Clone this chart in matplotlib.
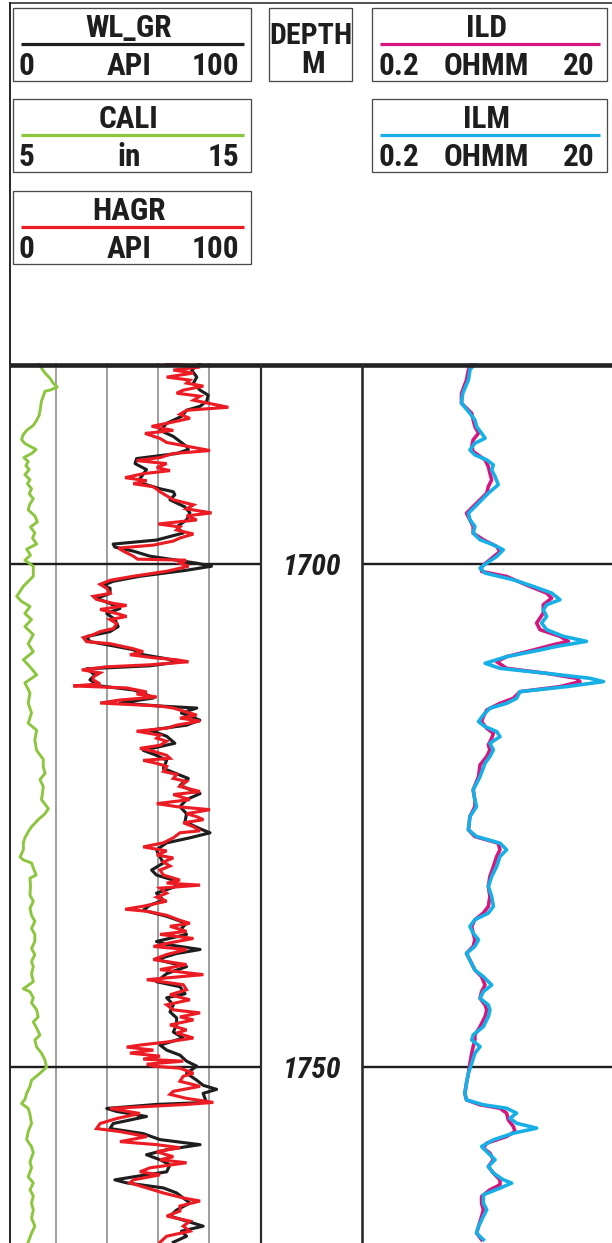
import matplotlib
matplotlib.use('Agg')
import matplotlib.pyplot as plt
from matplotlib.patches import Rectangle

plt.rcParams['font.family'] = ['Roboto Condensed', 'DejaVu Sans']

# ---------------- data ----------------
GR_DEPTH = [1680.0,1680.7,1681.4,1682.0,1682.7,1683.2,1683.8,1684.3,1684.7,1685.3,1686.0,1686.7,1687.3,1688.3,1688.6,1689.0,1689.5,1690.0,1690.6,1691.5,1692.0,1692.5,1692.8,1693.1,1693.6,1694.3,1694.9,1695.6,1696.3,1696.9,1697.6,1698.0,1698.3,1698.7,1699.2,1699.9,1700.2,
            1700.6,1701.2,1701.7,1702.1,1702.4,1702.9,1703.4,1703.9,1704.4,1704.9,1705.5,1706.2,1706.7,1707.2,1707.7,1708.0,1708.5,1709.0,1709.4,1709.7,1710.1,1710.4,1711.0,1711.5,1712.1,1712.5,1712.8,1713.3,1713.8,1714.1,1714.3,1714.8,1715.5,1716.0,1716.5,1717.1,1717.8,1718.5,1719.0,
            1719.5,1720.3,1721.3,1722.0,1722.8,1723.4,1724.1,1724.8,1725.6,1726.3,1726.7,1727.2,1727.7,1728.4,1729.1,1729.7,1730.4,1730.9,1731.4,1732.0,1732.7,1733.4,1733.9,1734.4,1735.0,1735.7,1736.2,1736.8,1737.5,1737.8,1738.3,1738.7,1739.3,
            1740.0,1740.7,1741.5,1742.0,1742.7,1743.1,1743.8,1744.5,1745.1,1745.8,1746.5,1747.1,1747.8,1748.3,1748.8,1749.4,1749.9,1750.6,1751.3,1751.8,1752.2,1752.6,1753.1,1753.5,1753.7,1754.1,1754.4,1754.9,1755.6,1756.1,1756.6,1757.2,1757.7,1758.2,1758.7,1759.2,1759.7,1760.4,1760.9,1761.2,1761.5,1762.0,1762.5,1763.0,1763.5,1764.2,1764.8,1765.3,1765.8,1766.3,1766.8,1767.4]
WL_GR = [76.4,73.2,75.2,73.9,76.5,79.7,79.1,76.5,71.2,69.3,63.4,60.8,66.0,71.2,71.9,67.3,51.6,51.0,55.5,52.9,54.2,60.8,66.0,66.6,64.7,70.5,72.5,71.2,67.3,69.9,59.4,42.4,43.1,50.3,56.8,75.2,81.0,
         71.2,52.9,42.4,38.5,41.2,41.2,35.9,41.2,45.1,39.9,43.1,44.4,41.2,32.0,33.3,39.9,50.3,54.2,63.4,68.6,56.8,32.0,35.3,33.3,37.2,50.3,54.2,58.2,45.1,60.8,75.2,69.2,76.4,71.2,56.8,63.4,66.6,54.2,59.4,
         63.4,62.1,71.9,68.6,76.5,71.2,68.6,71.2,70.6,76.5,80.4,72.5,63.4,59.4,60.8,62.1,57.5,59.4,66.0,67.3,59.4,62.1,56.8,54.2,63.4,71.2,69.2,71.2,59.4,63.4,76.5,67.3,59.4,
         71.2,63.4,59.4,68.6,70.6,63.4,66.0,64.7,67.3,67.3,66.0,69.9,60.8,63.4,68.6,71.2,75.2,71.2,75.2,77.7,83.0,77.7,78.4,79.1,59.4,39.9,43.8,55.5,42.4,41.2,54.2,60.8,76.5,63.4,55.5,60.8,64.7,63.4,50.3,43.1,47.7,62.1,67.3,69.9,72.5,67.3,64.7,71.2,77.7,69.2,71.2,66.0]

HAGR_DEPTH = [1680.0,1680.4,1680.7,1681.0,1681.4,1681.7,1682.0,1682.3,1682.7,1683.0,1683.3,1683.7,1684.1,1684.4,1684.7,1685.1,1685.5,1686.0,1686.3,1686.7,1687.0,1687.5,1687.9,1688.4,1688.7,1689.0,1689.4,1689.7,1690.0,1690.4,1690.7,1691.0,1691.4,1691.7,1692.0,1692.3,1692.8,1693.2,1693.6,1694.1,1694.5,1694.9,1695.2,1695.6,1696.0,1696.3,1696.6,1697.0,1697.4,1697.7,1698.1,1698.4,1698.7,1699.2,1699.5,1699.6,1699.9,1700.2,1700.7,1701.2,1701.6,
              1702.0,1702.4,1702.9,1703.2,1703.5,1703.9,1704.1,1704.5,1704.9,1705.2,1705.5,1705.9,1706.4,1706.7,1707.0,1707.3,1707.7,1707.9,1708.4,1708.7,1709.0,1709.3,1709.5,1709.7,1710.0,1710.2,1710.5,1710.8,1711.2,1711.5,1711.9,1712.1,1712.3,1712.7,1712.9,1713.2,1713.5,1713.8,1714.1,1714.3,1714.6,1715.0,1715.3,1715.6,1716.0,1716.3,1716.6,1717.0,1717.3,1717.6,1718.0,1718.3,1718.6,1719.0,1719.3,
              1719.5,1719.8,1720.1,1720.6,1720.9,1721.3,1721.6,1722.1,1722.6,1722.9,1723.4,1723.8,1724.1,1724.4,1724.8,1725.1,1725.4,1725.7,1726.1,1726.5,1726.7,1727.2,1727.7,1728.1,1728.5,1728.9,1729.2,1729.6,1730.0,1730.4,1730.9,1731.4,1731.7,1731.9,1732.2,1732.7,1733.1,1733.5,1734.0,1734.3,1734.5,1734.9,1735.4,1735.7,1736.0,1736.5,1736.8,1737.2,1737.7,1738.0,1738.3,1738.8,1739.3,
              1739.8,1740.3,1740.8,1741.3,1741.8,1742.3,1742.8,1743.3,1743.8,1744.3,1744.6,1745.0,1745.3,1745.8,1746.3,1746.6,1747.1,1747.5,1747.8,1748.0,1748.3,1748.6,1748.9,1749.2,1749.4,1749.7,1749.9,1750.1,1750.6,1750.9,1751.4,1751.9,1752.4,1752.7,1753.1,1753.5,1753.7,1754.1,1754.6,1755.1,1755.6,1756.1,1756.4,1756.9,1757.4,1757.7,1758.0,1758.4,1758.9,1759.2,1759.5,1760.0,1760.4,1760.7,1761.2,1761.5,1762.0,1762.5,1763.0,1763.3,1763.8,1764.3,1764.8,1765.3,1765.8,1766.3,1766.8,1767.4]
HAGR = [63.4,76.5,66.0,73.9,63.4,72.5,71.2,77.8,69.9,67.3,76.5,73.9,81.7,87.6,71.2,68.6,72.5,63.4,57.5,66.0,54.9,60.8,63.4,73.9,80.4,66.0,60.8,51.6,63.4,59.5,64.7,54.2,47.1,55.6,50.3,58.2,60.8,63.4,66.0,73.9,71.2,81.0,71.2,75.2,60.1,68.6,67.3,73.9,68.6,66.0,58.2,44.4,46.4,50.3,52.0,71.0,68.6,72.0,63.4,50.3,41.2,
        37.3,39.9,41.2,34.6,35.9,42.5,47.7,37.3,43.8,47.7,41.2,43.8,42.5,37.3,34.6,30.7,32.0,41.2,50.3,54.2,49.0,58.2,67.3,71.9,56.9,39.9,30.1,37.3,34.6,34.6,37.3,26.8,47.7,55.6,51.6,59.5,45.1,37.3,60.8,66.0,69.9,75.2,68.6,76.5,67.3,63.4,51.6,60.8,59.5,63.4,60.8,52.9,58.2,63.4,64.7,
        54.2,59.5,63.4,62.1,67.3,66.0,71.2,68.6,76.5,66.0,72.5,59.5,67.3,80.4,71.2,75.2,77.8,69.9,73.9,76.5,68.6,66.0,62.1,54.2,63.4,59.5,66.0,62.1,64.7,60.8,62.1,68.6,63.4,76.5,60.8,63.4,59.5,63.4,54.2,47.1,55.6,63.4,68.6,72.5,64.7,71.2,60.8,73.9,63.4,58.2,71.2,63.4,58.2,
        71.2,60.8,77.8,55.6,69.9,71.2,64.7,72.5,63.4,66.0,76.5,68.6,73.9,64.7,71.2,67.3,73.9,63.4,52.9,47.7,58.2,49.0,60.8,54.2,69.9,55.6,58.2,68.6,73.9,69.9,68.6,76.5,66.0,64.7,71.2,81.7,71.2,41.2,52.9,43.8,37.3,35.9,45.1,55.6,45.1,59.5,68.6,59.5,66.0,60.8,71.2,56.9,52.9,60.8,50.3,49.0,55.6,62.1,69.9,76.5,68.6,68.6,63.4,72.5,69.9,72.5,63.4,60.8]

CALI_DEPTH = [1680.0,1680.5,1681.0,1681.5,1682.0,1682.4,1682.7,1682.8,1683.3,1683.8,1684.5,1685.2,1685.7,1686.2,1686.7,1687.1,1687.6,1688.0,1688.6,1689.0,1689.4,1689.8,1690.2,1690.6,1691.1,1691.6,1692.0,1692.5,1693.0,1693.5,1694.0,1694.6,1695.2,1695.8,1696.3,1696.9,1697.4,1698.0,1698.5,1699.1,1699.6,
              1700.2,1701.2,1702.2,1703.2,1703.7,1704.2,1704.9,1705.5,1706.2,1707.0,1707.9,1708.7,1709.5,1710.2,1711.0,1711.8,1712.8,1713.8,1714.8,1715.8,1716.5,1717.5,1718.5,1719.4,
              1720.1,1720.8,1721.4,1722.1,1722.8,1723.4,1724.3,1724.8,1725.4,1726.1,1726.6,1727.2,1727.7,1728.4,1729.1,1729.4,1729.7,1730.2,1730.9,1731.2,1732.0,1732.9,1733.5,1734.2,1734.9,1735.5,1736.2,1736.8,1737.5,1738.2,1738.8,1739.5,
              1740.0,1740.7,1741.5,1742.2,1742.5,1743.1,1743.6,1744.3,1745.0,1745.5,1746.1,1746.8,1747.3,1748.0,1748.6,1749.3,1750.0,1750.6,1751.3,1751.9,1752.6,1753.2,1753.6,1754.1,1754.7,1755.6,1756.4,1757.2,1757.9,1758.5,1759.4,1760.0,1760.9,1761.5,1762.2,1762.8,1763.5,1764.2,1765.0,1765.8,1766.5,1767.4]
CALI = [6.30,6.43,6.57,6.76,6.89,7.05,6.76,6.57,6.50,6.43,6.39,6.34,6.24,6.11,5.85,5.72,5.65,5.78,6.22,6.04,5.74,5.91,5.82,5.95,5.78,5.98,5.88,6.04,5.95,6.11,5.98,5.91,6.17,6.27,6.00,6.17,6.08,6.24,5.85,6.00,5.78,
        6.11,6.11,5.72,5.46,5.65,5.98,5.78,6.04,5.78,6.11,5.91,6.11,5.72,5.98,6.24,5.78,5.98,5.91,6.04,5.91,6.24,6.17,6.24,6.50,
        6.50,6.57,6.37,6.50,6.47,6.43,6.70,6.57,6.30,6.04,5.91,5.78,5.72,5.72,5.59,5.72,6.04,6.11,6.22,5.98,6.00,5.98,6.11,5.98,6.04,6.17,6.04,6.17,6.17,6.04,6.17,6.04,
        6.11,6.04,6.11,5.72,5.98,6.11,6.04,6.24,6.30,6.11,6.24,6.37,6.17,6.24,6.43,6.57,6.63,6.37,6.04,5.98,5.85,5.78,5.65,5.91,5.98,6.04,5.91,5.85,6.04,6.11,5.98,6.04,5.91,6.11,5.98,6.11,6.04,6.11,6.04,6.17,6.04,5.91]

ILM_DEPTH = [1680.03,1680.69,1681.69,1683.01,1684.0,1685.0,1685.66,1686.32,1686.98,1687.48,1687.97,1688.64,1689.13,1689.63,1690.13,1690.62,1691.29,1692.1,1692.94,1693.93,1694.93,1695.59,1696.25,1696.91,1697.57,1698.07,1698.57,1699.23,1699.89,1700.39,1700.88,1701.55,1702.21,1702.87,1703.53,1704.03,1704.53,1705.19,1705.85,1706.51,1707.17,1707.67,1708.17,
             1708.53,1709.19,1709.85,1710.35,1710.85,1711.34,1711.67,1712.17,1712.67,1713.33,1713.83,1714.32,1714.98,1715.65,1716.14,1716.64,1717.14,1717.8,1718.46,1719.12,1719.78,1721.11,1722.43,1723.43,1724.09,1725.08,1726.4,1727.07,1727.73,1728.39,1729.05,1730.05,1731.04,1732.03,1733.02,1734.02,1734.68,1735.34,1736.0,1736.67,1737.33,1737.99,
             1738.68,1739.35,1740.34,1741.0,1741.83,1742.49,1743.15,1743.81,1744.31,1744.97,1745.97,1746.79,1747.29,1747.95,1748.61,1749.61,1750.6,1751.59,1752.59,1753.25,1753.74,1754.08,1754.57,1755.07,1755.57,1756.06,1756.56,1757.22,1757.88,1758.54,1759.2,1759.87,1760.53,1761.19,1761.52,1762.02,1762.68,1763.51,1764.17,1764.83,1765.83,1766.49,1767.15]
ILM = [1.60,1.46,1.42,1.28,1.25,1.46,1.60,1.65,1.81,1.93,1.60,1.46,1.60,1.99,2.25,2.18,2.32,2.46,2.05,1.71,1.42,1.46,1.60,1.55,1.76,2.25,2.70,2.39,1.99,1.76,1.93,3.25,4.70,6.58,7.67,6.00,5.64,6.00,5.47,6.00,8.16,12.5,7.21,
       5.31,2.87,1.93,2.54,6.00,13.3,17.1,8.67,3.67,3.45,2.87,2.11,1.87,1.71,1.93,2.39,2.54,2.11,2.25,2.11,1.93,1.76,1.55,1.60,1.65,1.46,1.42,1.65,2.54,2.87,2.54,2.39,2.18,2.05,2.18,2.25,2.05,1.60,1.46,1.55,1.71,1.60,
       1.37,1.46,1.60,1.87,2.18,1.87,1.76,2.05,2.11,2.05,1.87,1.55,1.51,1.76,1.60,1.51,1.42,1.37,1.33,1.37,1.87,2.87,3.45,3.05,3.45,4.99,3.25,2.25,1.81,2.05,2.32,2.05,2.25,2.70,3.15,2.54,1.87,1.87,1.99,1.87,1.71,1.65,1.87]

ILD_DEPTH = [1680.03,1680.69,1681.69,1683.01,1684.0,1685.0,1685.66,1686.32,1686.98,1687.64,1688.3,1688.8,1689.63,1690.3,1690.95,1691.62,1692.28,1692.94,1693.93,1694.93,1695.59,1696.25,1696.91,1697.57,1698.24,1698.73,1699.56,1700.22,1700.72,1701.22,1702.21,1702.87,1703.37,1704.03,1704.86,1705.85,1706.51,1707.17,1707.67,1708.0,
             1708.53,1709.19,1709.69,1710.35,1710.85,1711.34,1711.67,1712.17,1712.67,1713.33,1713.83,1714.49,1715.15,1715.65,1716.31,1716.8,1717.3,1717.96,1718.46,1719.12,1719.95,1721.11,1722.43,1723.43,1724.09,1725.08,1726.4,1727.07,1727.73,1728.39,1729.05,1730.05,1731.04,1732.03,1733.02,1734.02,1734.68,1735.34,1736.0,1736.67,1737.33,1737.99,
             1738.68,1739.35,1740.34,1741.0,1741.83,1742.49,1743.15,1743.81,1744.31,1744.97,1745.97,1746.79,1747.29,1747.95,1748.61,1749.61,1750.6,1751.59,1752.59,1753.25,1753.74,1754.08,1754.57,1755.23,1755.9,1756.39,1756.89,1757.55,1758.05,1758.54,1759.2,1759.87,1760.53,1761.19,1761.69,1762.19,1762.85,1763.51,1764.17,1764.83,1765.83,1766.49,1767.15]
ILD = [1.51,1.42,1.37,1.25,1.25,1.51,1.55,1.60,1.71,1.55,1.51,1.55,1.93,2.05,2.11,2.18,2.05,1.99,1.65,1.37,1.46,1.55,1.55,1.87,2.39,2.54,2.11,1.81,1.81,2.87,4.41,6.00,6.58,5.64,5.64,4.99,5.31,7.67,8.95,6.79,
       4.70,2.87,2.39,2.87,6.00,10.4,11.1,7.67,3.67,3.25,2.54,1.99,1.87,1.81,1.99,2.25,2.18,2.05,2.11,1.99,1.76,1.71,1.55,1.60,1.60,1.46,1.42,1.60,2.46,2.54,2.39,2.25,2.11,2.05,2.11,2.05,1.87,1.60,1.51,1.55,1.60,1.55,
       1.37,1.46,1.60,1.81,1.93,1.81,1.76,1.93,1.99,1.93,1.76,1.60,1.60,1.55,1.51,1.46,1.42,1.37,1.33,1.37,1.76,2.54,2.87,2.96,3.25,3.35,2.87,1.99,1.87,2.11,2.25,2.05,2.25,2.54,2.54,2.11,1.81,1.81,1.87,1.81,1.71,1.65,1.81]

DEPTH_LABELS = [1700, 1750]

# ---------------- layout ----------------
W, H = 612, 1243
PX_PER_M = 10.06
Y_TOP = 363
TOP_D = 1680.0
BOT_D = TOP_D + (H - Y_TOP) / PX_PER_M

fig = plt.figure(figsize=(W / 100, H / 100), dpi=100)

def rect(x0, y0, x1, y1):
    return [x0 / W, 1 - y1 / H, (x1 - x0) / W, (y1 - y0) / H]

def px(p):
    return p * 0.72

GRID = '#8a8a8a'
BLACK = '#1e1e1e'
RED = '#ec1c24'
GREEN = '#8cc63e'
MAGENTA = '#d4177f'
CYAN = '#17b0e6'

# Track 1 (GR / HAGR / CALI)
ax1 = fig.add_axes(rect(11, Y_TOP, 260, H))
ax1.set_xlim(2.353, 100)
ax1.set_ylim(BOT_D, TOP_D)
ax1.axis('off')
for g in [20, 40, 60, 80]:
    ax1.axvline(g, color=GRID, lw=px(1.6), zorder=1)
for d in DEPTH_LABELS:
    ax1.axhline(d, color=BLACK, lw=px(2.4), zorder=1)

axc = fig.add_axes(rect(11, Y_TOP, 260, H))
axc.set_xlim(5.2353, 15)
axc.set_ylim(BOT_D, TOP_D)
axc.axis('off')
axc.plot(CALI, CALI_DEPTH, color=GREEN, lw=px(2.9), solid_joinstyle='round')

axg = fig.add_axes(rect(11, Y_TOP, 260, H))
axg.set_xlim(2.353, 100)
axg.set_ylim(BOT_D, TOP_D)
axg.axis('off')
axg.plot(WL_GR, GR_DEPTH, color=BLACK, lw=px(3.1), solid_joinstyle='round')
axg.plot(HAGR, HAGR_DEPTH, color=RED, lw=px(3.1), solid_joinstyle='miter')

# Depth track
axd = fig.add_axes(rect(260, Y_TOP, 362, H))
axd.set_xlim(0, 1)
axd.set_ylim(BOT_D, TOP_D)
axd.axis('off')
for d in DEPTH_LABELS:
    axd.text(0.51, d + 0.3, str(d), ha='center', va='center', fontsize=21.5,
             fontweight='bold', fontstyle='italic', color=BLACK)

# Track 3 (resistivity)
ax3 = fig.add_axes(rect(362, Y_TOP, 612, H))
ax3.set_xscale('log')
ax3.set_xlim(0.2, 20)
ax3.set_ylim(BOT_D, TOP_D)
ax3.axis('off')
for d in DEPTH_LABELS:
    ax3.axhline(d, color=BLACK, lw=px(2.4), zorder=1)
ax3.plot(ILD, ILD_DEPTH, color=MAGENTA, lw=px(3.6), solid_joinstyle='round', zorder=3)
ax3.plot(ILM, ILM_DEPTH, color=CYAN, lw=px(3.6), solid_joinstyle='round', zorder=4)

# Overlay for frame + header
ov = fig.add_axes([0, 0, 1, 1])
ov.set_xlim(0, W)
ov.set_ylim(H, 0)
ov.axis('off')
ov.patch.set_alpha(0)

FRAME = '#2a2a2a'
ov.plot([10, 10], [3, H], color=FRAME, lw=px(2.0))
ov.plot([10, W], [3, 3], color=FRAME, lw=px(1.6))
ov.plot([10, W], [365, 365], color='#222222', lw=px(4.6), solid_capstyle='butt')
ov.plot([260.5, 260.5], [365, H], color=FRAME, lw=px(2.2))
ov.plot([362, 362], [365, H], color=FRAME, lw=px(2.6))

FS = 22.5
BOX_EDGE = '#4a4a4a'

def curve_box(x0, x1, top, name, color, left, unit, right):
    ov.add_patch(Rectangle((x0, top), x1 - x0, 73, fill=False, ec=BOX_EDGE, lw=px(1.3)))
    cx = (x0 + x1) / 2 - 3
    ov.text(cx, top + 29, name, ha='center', va='baseline', fontsize=FS, fontweight='bold', color=BLACK)
    ov.plot([x0 + 8, x1 - 7], [top + 36, top + 36], color=color, lw=px(3.2), solid_capstyle='butt')
    ov.text(x0 + 6, top + 67, left, ha='left', va='baseline', fontsize=FS, fontweight='bold', color=BLACK)
    ov.text(cx, top + 67, unit, ha='center', va='baseline', fontsize=FS, fontweight='bold', color=BLACK)
    ov.text(x1 - 12, top + 67, right, ha='right', va='baseline', fontsize=FS, fontweight='bold', color=BLACK)

curve_box(13, 251, 8, 'WL_GR', BLACK, '0', 'API', '100')
curve_box(13, 251, 99, 'CALI', GREEN, '5', 'in', '15')
curve_box(13, 251, 191, 'HAGR', RED, '0', 'API', '100')
curve_box(372, 607, 8, 'ILD', MAGENTA, '0.2', 'OHMM', '20')
curve_box(372, 607, 99, 'ILM', CYAN, '0.2', 'OHMM', '20')

ov.add_patch(Rectangle((269, 8), 83, 73, fill=False, ec=BOX_EDGE, lw=px(1.3)))
ov.text(311, 44, 'DEPTH', ha='center', va='baseline', fontsize=21.5, fontweight='bold', color=BLACK)
ov.text(313, 73, 'M', ha='center', va='baseline', fontsize=FS, fontweight='bold', color=BLACK)

fig.savefig('out.png', dpi=100)
